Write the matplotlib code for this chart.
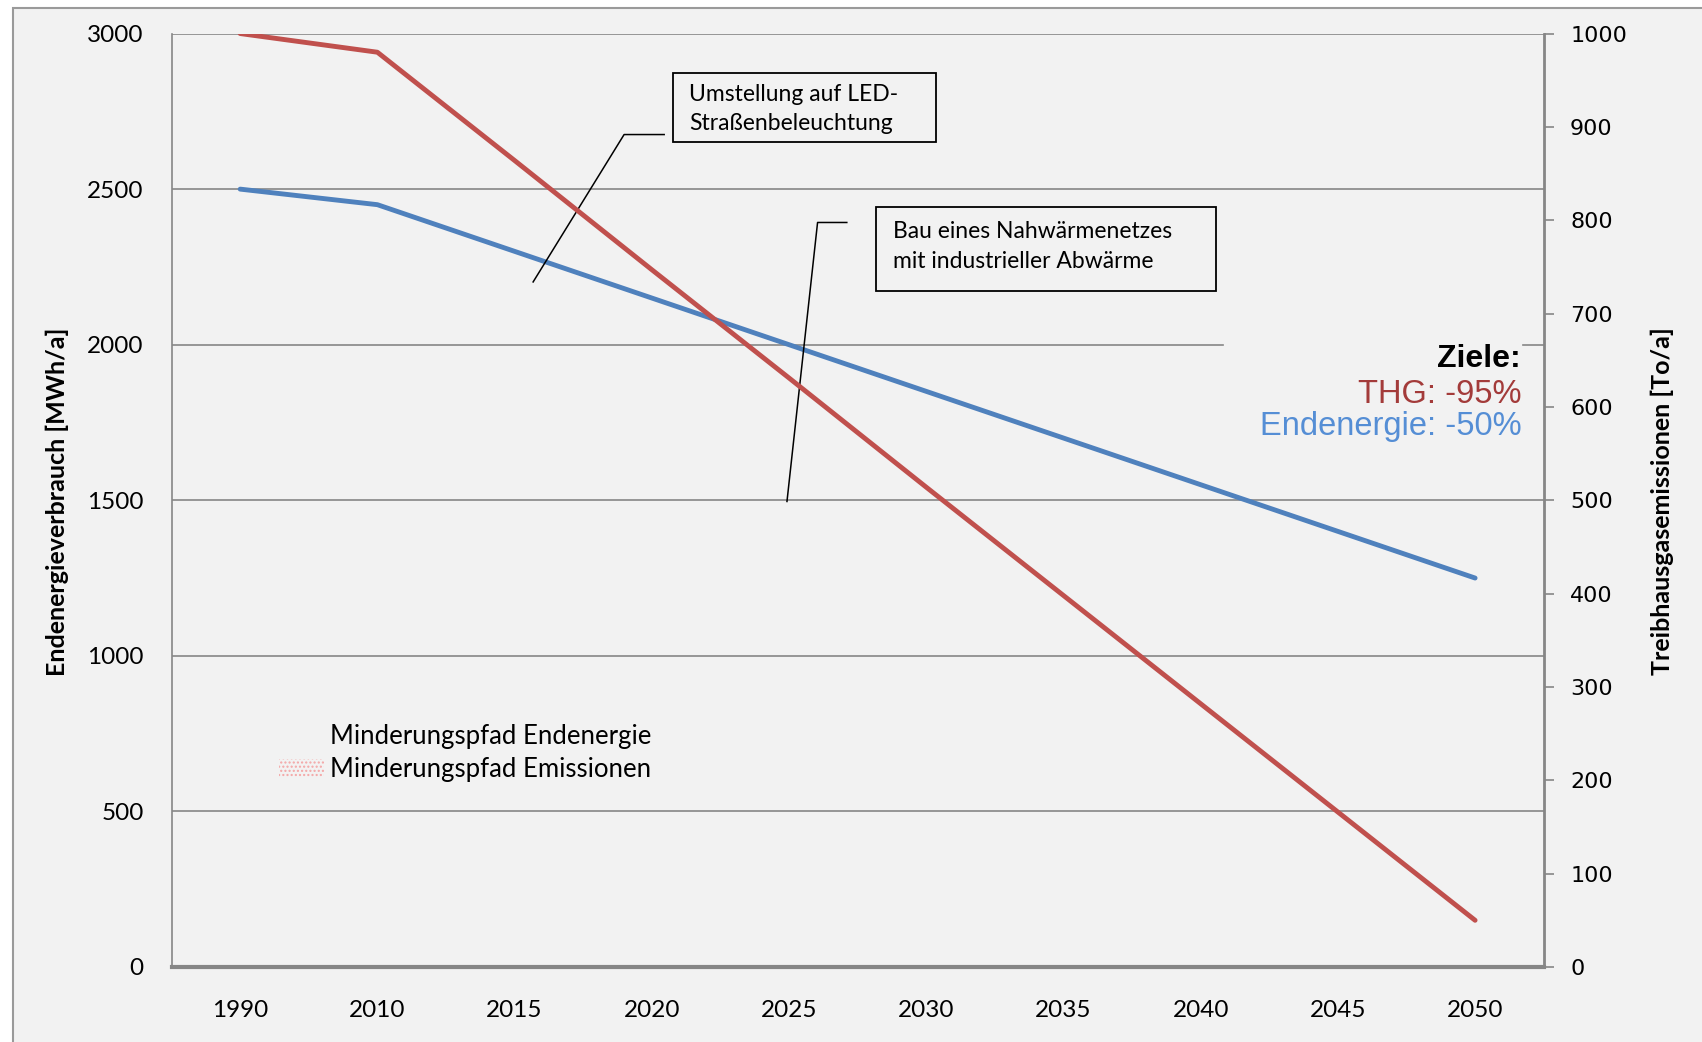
import matplotlib.pyplot as plt
from matplotlib.patches import Rectangle, Patch
from matplotlib.lines import Line2D

# Daten
jahre = ["1990", "2010", "2015", "2020", "2025", "2030", "2035", "2040", "2045", "2050"]
endenergie = [2500, 2450, 2300, 2150, 2000, 1850, 1700, 1550, 1400, 1250]   # MWh/a
emissionen = [1000, 980, 864, 747, 631, 514, 398, 282, 166, 50]            # To/a

bg = "#f2f2f2"
grau = "#868686"
rot = "#c0504d"
blau = "#4f81bd"

plt.rcParams["font.family"] = ["Lato", "DejaVu Sans"]

fig = plt.figure(figsize=(17.02, 10.42), dpi=100, facecolor="white")
fig.patches.append(Rectangle((13 / 1702, -0.01), 1.05, 1 - 8 / 1042 + 0.01,
                             transform=fig.transFigure, facecolor=bg,
                             edgecolor="#9a9a9a", lw=1.5, zorder=-10))

ax = fig.add_axes([0.1008, 0.072, 0.8062, 0.8958])
ax.set_facecolor(bg)
ax2 = ax.twinx()

x = list(range(len(jahre)))

# Gitterlinien (bei 2000 vom Textfeld unterbrochen)
for v in [500, 1000, 1500, 2500, 3000]:
    ax.axhline(v, color=grau, lw=1.2, zorder=1)
ax.axhline(2000, xmin=0, xmax=0.766, color=grau, lw=1.2, zorder=1)
ax.axhline(2000, xmin=0.985, xmax=1, color=grau, lw=1.2, zorder=1)

ax.plot(x, endenergie, color=blau, lw=3.5, solid_capstyle="round", zorder=3)
ax2.plot(x, emissionen, color=rot, lw=3.5, solid_capstyle="round", zorder=3)

ax.set_xlim(-0.5, 9.5)
ax.set_ylim(0, 3000)
ax2.set_ylim(0, 1000)
ax.set_yticks([0, 500, 1000, 1500, 2000, 2500, 3000])
ax2.set_yticks(range(0, 1001, 100))
ax.set_xticks(x)
ax.set_xticklabels(jahre)

ax.tick_params(axis="y", length=0, pad=20, labelsize=17.5)
ax.tick_params(axis="x", length=0, pad=24, labelsize=17.5)
ax2.tick_params(axis="y", length=7, width=1.2, color=grau, pad=12, labelsize=16)
for lab in ax2.get_yticklabels():
    lab.set_fontfamily("DejaVu Sans")

for s in ["top", "right"]:
    ax.spines[s].set_visible(False)
    ax2.spines[s].set_visible(False)
ax2.spines["left"].set_visible(False)
ax2.spines["bottom"].set_visible(False)
ax2.spines["right"].set_visible(True)
ax2.spines["right"].set_color(grau)
ax2.spines["right"].set_linewidth(2)
ax.spines["left"].set_color(grau)
ax.spines["left"].set_linewidth(1.2)
ax.spines["bottom"].set_color(grau)
ax.spines["bottom"].set_linewidth(3)

# Achsentitel
fig.text(0.0335, 0.5187, "Endenergieverbrauch [MWh/a]", rotation=90, fontsize=18,
         fontweight="bold", ha="center", va="center")
fig.text(0.9765, 0.5187, "Treibhausgasemissionen [To/a]", rotation=90, fontsize=18,
         fontweight="bold", ha="center", va="center")

# Hinweisboxen
ax.add_patch(Rectangle((0.3655, 0.8837), 0.557 - 0.3655, 0.9581 - 0.8837,
                       transform=ax.transAxes, fill=False, edgecolor="black", lw=1.3, zorder=5))
ax.text(0.3772, 0.9192, "Umstellung auf LED-\nStraßenbeleuchtung", transform=ax.transAxes,
        fontsize=16.5, ha="left", va="center", linespacing=1.5, zorder=5)
ax.plot([0.2635, 0.3298, 0.359], [0.7339, 0.8918, 0.8918], color="black", lw=1.1,
        transform=ax.transAxes, zorder=5)

ax.add_patch(Rectangle((0.5135, 0.7242), 0.7613 - 0.5135, 0.8142 - 0.7242,
                       transform=ax.transAxes, fill=False, edgecolor="black", lw=1.3, zorder=5))
ax.text(0.5259, 0.772, "Bau eines Nahwärmenetzes\nmit industrieller Abwärme", transform=ax.transAxes,
        fontsize=16.5, ha="left", va="center", linespacing=1.5, zorder=5)
ax.plot([0.4485, 0.4708, 0.4921], [0.4987, 0.7976, 0.7976], color="black", lw=1.1,
        transform=ax.transAxes, zorder=5)

# Ziele
ziel_fam = ["Liberation Sans", "DejaVu Sans"]
ax.text(0.9836, 0.651, "Ziele:", transform=ax.transAxes, fontsize=23, fontweight="bold",
        ha="right", va="center", family=ziel_fam)
ax.text(0.9836, 0.6135, "THG: -95%", transform=ax.transAxes, fontsize=23.5, color="#a33b3a",
        ha="right", va="center", family=ziel_fam)
ax.text(0.9836, 0.5785, "Endenergie: -50%", transform=ax.transAxes, fontsize=23.5, color="#558ed5",
        ha="right", va="center", family=ziel_fam)

# Legende
handles = [Line2D([], [], color="none"),
           Patch(facecolor="none", edgecolor="#f4a6a6", hatch="....", lw=0)]
ax.legend(handles, ["Minderungspfad Endenergie", "Minderungspfad Emissionen"],
          loc="upper left", bbox_to_anchor=(0.0612, 0.285), frameon=False,
          fontsize=18.5, handlelength=1.75, handletextpad=0.25, labelspacing=0.3)

fig.savefig("out.png", dpi=100, facecolor=fig.get_facecolor())
